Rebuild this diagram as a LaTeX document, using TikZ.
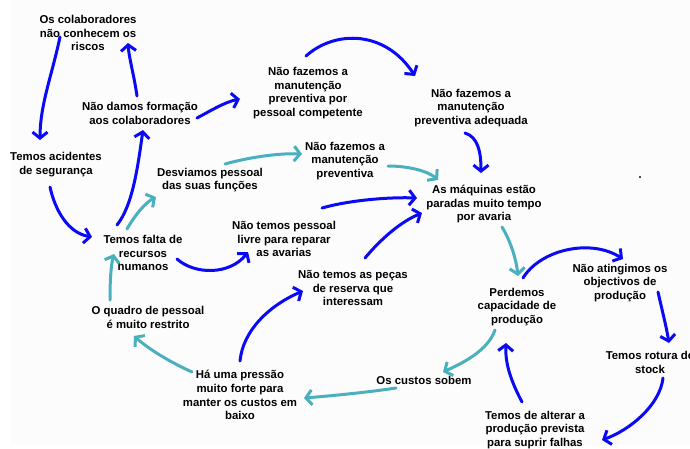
\documentclass[tikz,border=0pt]{standalone}
\usepackage{fontspec}
\setmainfont{Liberation Sans}
\usetikzlibrary{arrows.meta}
\definecolor{cblue}{HTML}{0A0AF5}
\definecolor{cteal}{HTML}{4BB0BE}
\definecolor{bg}{HTML}{FCFCFC}
\begin{document}
\begin{tikzpicture}[x=1pt,y=-1pt,
  lbl/.style={font=\bfseries\fontsize{11.4}{13.9}\selectfont, align=center, inner sep=1pt, text=black},
  ba/.style={draw=cblue, line width=3pt, line cap=round, -{Straight Barb[length=6pt,width=15pt]}},
  ta/.style={ba, draw=cteal}]
\useasboundingbox (0,0) rectangle (690,448);
\fill[bg] (10,0) rectangle (690,445);
\fill[black!70] (639,176) rectangle (641,178);

\node[lbl] (n1) at (88,33) {Os colaboradores\\não conhecem os\\riscos};
\node[lbl] (n2) at (140,113) {Não damos formação\\aos colaboradores};
\node[lbl] (n3) at (308,93) {Não fazemos a\\manutenção\\preventiva por\\pessoal competente};
\node[lbl] (n4) at (471,108) {Não fazemos a\\manutenção\\preventiva adequada};
\node[lbl] (n5) at (56,165) {Temos acidentes\\de segurança};
\node[lbl] (n6) at (210,180) {Desviamos pessoal\\das suas funções};
\node[lbl] (n7) at (345,161) {Não fazemos a\\manutenção\\preventiva};
\node[lbl] (n8) at (484,204) {As máquinas estão\\paradas muito tempo\\por avaria};
\node[lbl] (n9) at (143,253) {Temos falta de\\recursos\\humanos};
\node[lbl] (n10) at (284,239) {Não temos pessoal\\livre para reparar\\as avarias};
\node[lbl] (n11) at (353,288) {Não temos as peças\\de reserva que\\interessam};
\node[lbl] (n12) at (517,307) {Perdemos\\capacidade de\\produção};
\node[lbl] (n13) at (620,283) {Não atingimos os\\objectivos de\\produção};
\node[lbl] (n14) at (148,317) {O quadro de pessoal\\é muito restrito};
\node[lbl] (n15) at (240,395) {Há uma pressão\\muito forte para\\manter os custos em\\baixo};
\node[lbl] (n16) at (424,380) {Os custos sobem};
\node[lbl] (n17) at (650,362) {Temos rotura de\\stock};
\node[lbl] (n18) at (535,430) {Temos de alterar a\\produção prevista\\para suprir falhas};

% blue arrows
\draw[ba] ([shift={(-28,4)}]n1.center) .. controls (52,75) and (40,105) .. ([shift={(-16,-25)}]n5.center);
\draw[ba] ([shift={(-3,-17)}]n2.center) .. controls (134,75) and (129,58) .. ([shift={(40,10)}]n1.center);
\draw[ba] ([shift={(57,5)}]n2.center) .. controls (212,110) and (225,102) .. ([shift={(-68,6)}]n3.center);
\draw[ba] ([shift={(-2,-37)}]n3.center) .. controls (335,30) and (385,30) .. ([shift={(-56,-32)}]n4.center);
\draw[ba] ([shift={(-6,25)}]n4.center) .. controls (478,137) and (481,152) .. ([shift={(-3,-31)}]n8.center);
\draw[ba] ([shift={(-6,22)}]n5.center) .. controls (55,210) and (68,233) .. ([shift={(-51,-16)}]n9.center);
\draw[ba] ([shift={(-26,-28)}]n9.center) .. controls (133,205) and (138,165) .. ([shift={(3,17)}]n2.center);
\draw[ba] ([shift={(34,6)}]n9.center) .. controls (195,275) and (230,275) .. ([shift={(-36,13)}]n10.center);
\draw[ba] ([shift={(38,-31)}]n10.center) .. controls (350,200) and (390,197) .. ([shift={(-67,-6)}]n8.center);
\draw[ba] ([shift={(12,-30)}]n11.center) .. controls (380,240) and (400,222) .. ([shift={(-62,9)}]n8.center);
\draw[ba] ([shift={(6,-29)}]n12.center) .. controls (540,250) and (590,238) .. ([shift={(3,-24)}]n13.center);
\draw[ba] ([shift={(38,9)}]n13.center) .. controls (662,310) and (666,325) .. ([shift={(19,-19)}]n17.center);
\draw[ba] ([shift={(13,16)}]n17.center) .. controls (660,405) and (630,430) .. ([shift={(67,10)}]n18.center);
\draw[ba] ([shift={(-13,-28)}]n18.center) .. controls (512,383) and (505,365) .. ([shift={(-11,36)}]n12.center);
\draw[ba] ([shift={(0,-34)}]n15.center) .. controls (243,330) and (270,305) .. ([shift={(-50,3)}]n11.center);

% teal arrows
\draw[ta] ([shift={(-16,-24)}]n9.center) .. controls (135,215) and (145,203) .. ([shift={(-54,17)}]n6.center);
\draw[ta] ([shift={(15,-16)}]n6.center) .. controls (250,157) and (280,153) .. ([shift={(-43,-7)}]n7.center);
\draw[ta] ([shift={(43,5)}]n7.center) .. controls (408,166) and (428,171) .. ([shift={(-46,-24)}]n8.center);
\draw[ta] ([shift={(18,23)}]n8.center) .. controls (510,240) and (516,258) .. ([shift={(1,-31)}]n12.center);
\draw[ta] ([shift={(-22,23)}]n12.center) .. controls (488,350) and (465,362) .. ([shift={(19,-8)}]n16.center);
\draw[ta] ([shift={(-28,8)}]n16.center) .. controls (370,392) and (330,396) .. ([shift={(64,3)}]n15.center);
\draw[ta] ([shift={(-48,-23)}]n15.center) .. controls (170,362) and (150,350) .. ([shift={(-14,19)}]n14.center);
\draw[ta] ([shift={(-38,-17)}]n14.center) .. controls (110,280) and (111,265) .. ([shift={(-29,1)}]n9.center);
\end{tikzpicture}
\end{document}
